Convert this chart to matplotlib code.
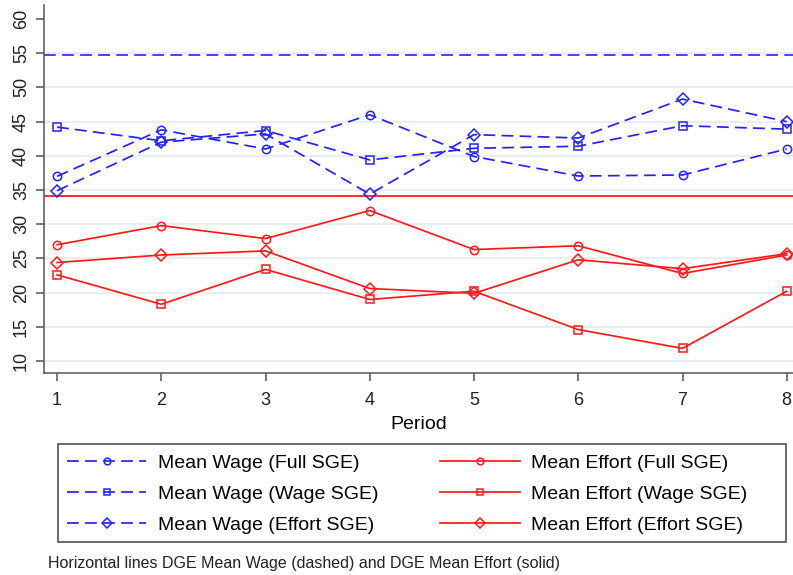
import matplotlib
matplotlib.use('Agg')
import matplotlib.pyplot as plt
from matplotlib.patches import Rectangle

plt.rcParams['font.family'] = ['Liberation Sans', 'DejaVu Sans']
plt.rcParams['lines.scale_dashes'] = False

# Periods and series means
periods = [1, 2, 3, 4, 5, 6, 7, 8]

wage_full = [37.0, 43.8, 41.0, 46.0, 39.9, 37.05, 37.2, 41.0]
wage_wage = [44.2, 42.2, 43.7, 39.4, 41.1, 41.4, 44.4, 43.9]
wage_effort = [34.9, 42.0, 43.2, 34.4, 43.1, 42.6, 48.3, 45.0]

effort_full = [27.0, 29.8, 27.9, 32.0, 26.3, 26.85, 22.8, 25.5]
effort_wage = [22.6, 18.3, 23.4, 19.0, 20.2, 14.6, 11.85, 20.2]
effort_effort = [24.4, 25.5, 26.1, 20.6, 19.9, 24.8, 23.5, 25.7]

# DGE benchmarks
dge_wage = 54.8
dge_effort = 34.1

y_ticks = [10, 15, 20, 25, 30, 35, 40, 45, 50, 55, 60]

blue = '#2323ff'
red = '#ff1a1a'
dash = (8.5, 4.5)

fig = plt.figure(figsize=(7.93, 5.75), dpi=100)
ax = fig.add_axes([44 / 793, 1 - 373 / 575, 1 - 44 / 793, 368 / 575])

# light horizontal grid
for t in y_ticks[:-1]:
    ax.axhline(t, color='#e6eef0', lw=1.3, zorder=0)

ax.axhline(dge_wage, color=blue, lw=1.2, dashes=dash, zorder=1)
ax.axhline(dge_effort, color=red, lw=1.3, zorder=1)

mk = dict(markerfacecolor='none', markeredgewidth=1.1)
ax.plot(periods, wage_full, color=blue, lw=1.25, dashes=dash, marker='o', ms=6,
        label='Mean Wage (Full SGE)', **mk)
ax.plot(periods, wage_wage, color=blue, lw=1.25, dashes=dash, marker='s', ms=5.5,
        label='Mean Wage (Wage SGE)', **mk)
ax.plot(periods, wage_effort, color=blue, lw=1.25, dashes=dash, marker='D', ms=6,
        label='Mean Wage (Effort SGE)', **mk)
ax.plot(periods, effort_full, color=red, lw=1.25, marker='o', ms=6,
        label='Mean Effort (Full SGE)', **mk)
ax.plot(periods, effort_wage, color=red, lw=1.25, marker='s', ms=5.5,
        label='Mean Effort (Wage SGE)', **mk)
ax.plot(periods, effort_effort, color=red, lw=1.25, marker='D', ms=6,
        label='Mean Effort (Effort SGE)', **mk)

ax.set_xlim(0.875, 8.06)
ax.set_ylim(8.25, 62.05)
ax.set_xticks(periods)
ax.set_yticks(y_ticks)
ax.set_yticklabels([str(t) for t in y_ticks], rotation=90, va='center')
ax.tick_params(axis='both', labelsize=13, length=6, width=1.1, color='#555555',
               labelcolor='#222222')
ax.tick_params(axis='x', pad=8)
ax.tick_params(axis='y', pad=4)
for s in ['top', 'right']:
    ax.spines[s].set_visible(False)
for s in ['left', 'bottom']:
    ax.spines[s].set_color('#555555')
    ax.spines[s].set_linewidth(1.1)

ax.set_xlabel('Period', fontsize=14, labelpad=5)

# legend in two columns below the axes, with its own box
handles, labels = ax.get_legend_handles_labels()
leg = fig.legend(handles, labels, ncol=2, loc='center left',
                 bbox_to_anchor=(66.7 / 793, 1 - 494 / 575),
                 fontsize=14, frameon=False, handlelength=4.1,
                 handletextpad=0.6, columnspacing=3.15, borderpad=0,
                 borderaxespad=0, labelspacing=0.7, markerscale=0.8)
fig.patches.append(Rectangle((58 / 793, 1 - 542 / 575), 728 / 793, 98 / 575,
                             transform=fig.transFigure, fill=False,
                             edgecolor='#444444', linewidth=1.1))

fig.text(48 / 793, 1 - 568 / 575, 'Horizontal lines DGE Mean Wage (dashed) and DGE Mean Effort (solid)',
         fontsize=11.5, color='#222222', va='baseline')

fig.savefig('out.png', dpi=100)
